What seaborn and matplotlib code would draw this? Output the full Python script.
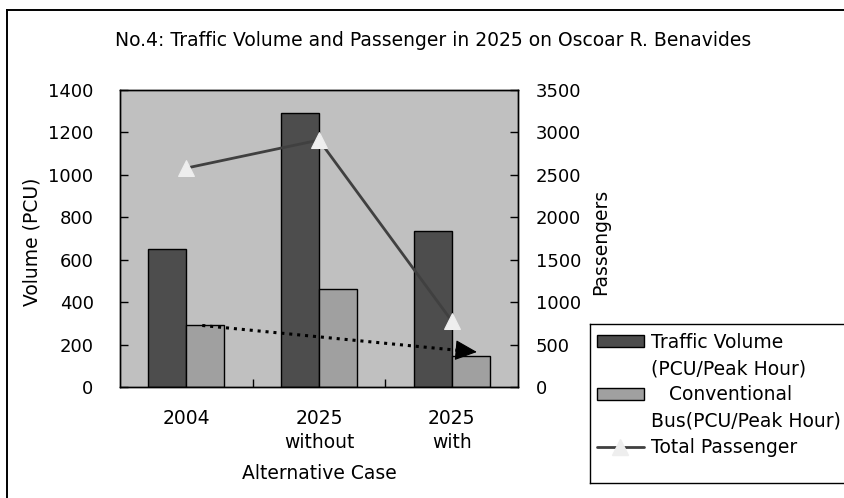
import matplotlib
matplotlib.use('Agg')
import matplotlib.pyplot as plt
import seaborn as sns
import pandas as pd
from matplotlib.patches import Patch
from matplotlib.lines import Line2D

# ---- data ----
categories = ['2004', '2025\nwithout', '2025\nwith']
traffic_volume = [650, 1290, 735]
bus_volume = [290, 460, 145]
passengers = [2580, 2910, 780]
series_names = ['Traffic Volume\n(PCU/Peak Hour)', '   Conventional\nBus(PCU/Peak Hour)']
line_name = 'Total Passenger'
left_ticks = [0, 200, 400, 600, 800, 1000, 1200, 1400]
right_ticks = [0, 500, 1000, 1500, 2000, 2500, 3000, 3500]
# dotted trend arrow (category position, volume)
arrow_start = (0.12, 290)
arrow_line_end = (2.06, 172)
arrow_tip = (2.19, 165)

title = 'No.4: Traffic Volume and Passenger in 2025 on Oscoar R. Benavides'

DARK = '#4d4d4d'
LIGHT = '#a0a0a0'
BG = '#c0c0c0'
LINE = '#404040'
MARK = '#eeeeee'
FS = 13.5
TFS = 13

sns.set_theme(style='white')
plt.rcParams['font.family'] = ['DejaVu Sans']
plt.rcParams['text.color'] = 'black'
plt.rcParams['axes.labelcolor'] = 'black'
plt.rcParams['xtick.color'] = 'black'
plt.rcParams['ytick.color'] = 'black'

W, H = 844, 498
fig = plt.figure(figsize=(W / 100, H / 100), dpi=100)
fig.patch.set_facecolor('white')
fig.patch.set_edgecolor('white')
fig.patch.set_linewidth(0)
ax = fig.add_axes([120 / W, 1 - 387 / H, 398 / W, 297 / H])
ax.set_facecolor(BG)

df = pd.DataFrame({
    'case': categories * 2,
    'series': [series_names[0]] * 3 + [series_names[1]] * 3,
    'value': traffic_volume + bus_volume,
})
sns.barplot(data=df, x='case', y='value', hue='series', order=categories,
            hue_order=series_names, palette=[DARK, LIGHT], width=0.574,
            saturation=1, edgecolor='black', linewidth=1, ax=ax, legend=False,
            errorbar=None)

ax.set_xlim(-0.5, 2.5)
ax.set_ylim(0, 1400)
ax.set_yticks(left_ticks)
ax.set_yticklabels([str(t) for t in left_ticks])
ax.set_xticks(range(len(categories)))
ax.set_xticklabels(categories, linespacing=1.35)
ax.set_xticks([0.5, 1.5], minor=True)
ax.tick_params(axis='y', direction='in', length=6, width=1, pad=19, labelsize=TFS, left=True)
ax.tick_params(axis='x', which='major', length=0, pad=16, labelsize=FS)
ax.tick_params(axis='x', which='minor', direction='in', length=6, width=1, bottom=True)
ax.set_xlabel('Alternative Case', fontsize=FS, labelpad=8)
ax.set_ylabel('Volume (PCU)', fontsize=FS)
ax.yaxis.set_label_coords(-0.196, 0.49)
for s in ax.spines.values():
    s.set_color('black')
    s.set_linewidth(1)

ax.plot([arrow_start[0], arrow_line_end[0]], [arrow_start[1], arrow_line_end[1]],
        linestyle=(0, (1, 1.6)), color='black', lw=2.2, zorder=5)

ax2 = ax.twinx()
ax2.set_ylim(0, 3500)
sns.lineplot(x=[0, 1, 2], y=passengers, ax=ax2, color=LINE, lw=2,
             marker='^', markersize=12, markerfacecolor=MARK,
             markeredgecolor=MARK, legend=False)
ax2.set_yticks(right_ticks)
ax2.set_yticklabels([str(t) for t in right_ticks])
ax2.tick_params(axis='y', direction='in', length=6, width=1, pad=13, labelsize=TFS, right=True)
ax2.set_ylabel('Passengers', fontsize=FS)
ax2.yaxis.set_label_coords(1.183, 0.49)
for s in ax2.spines.values():
    s.set_color('black')
    s.set_linewidth(1)

ax2.annotate('', xy=(arrow_tip[0], arrow_tip[1] * 2.5),
             xytext=(arrow_line_end[0], arrow_line_end[1] * 2.5),
             arrowprops=dict(arrowstyle='-|>,head_length=1.4,head_width=0.65',
                             color='black', lw=0.8, shrinkA=0, shrinkB=0,
                             mutation_scale=10), zorder=6)

fig.text(433 / W, 1 - 40 / H, title, ha='center', va='center', fontsize=FS)

# legend: first text line aligned with each handle
blank = Patch(facecolor='none', edgecolor='none')
handles = [Patch(facecolor=DARK, edgecolor='black', linewidth=1), blank,
           Patch(facecolor=LIGHT, edgecolor='black', linewidth=1), blank,
           Line2D([], [], color=LINE, lw=2, marker='^', markersize=12,
                  markerfacecolor=MARK, markeredgecolor=MARK)]
labels = []
for name in series_names:
    labels.extend(name.split('\n'))
labels.append(line_name)
leg = fig.legend(handles, labels, loc='upper left',
                 bbox_to_anchor=(589 / W, 1 - 325 / H), bbox_transform=fig.transFigure,
                 frameon=False, fontsize=FS,
                 handlelength=2.5, handleheight=0.6, handletextpad=0.4,
                 labelspacing=0.39, borderpad=0.42, borderaxespad=0)


def fig_line(x0, y0, x1, y1, lw=1.0):
    fig.add_artist(Line2D([x0 / W, x1 / W], [1 - y0 / H, 1 - y1 / H],
                          transform=fig.transFigure, color='black', lw=lw,
                          solid_capstyle='projecting'))


# legend box (runs past the right edge)
fig_line(590, 324, 860, 324)
fig_line(590, 324, 590, 483)
fig_line(590, 483, 860, 483)
# outer chart frame (runs past right and bottom edges)
fig_line(6.5, 10, 860, 10, lw=1.4)
fig_line(6.5, 10, 6.5, 520, lw=1.4)

fig.savefig('out.png', dpi=100)
